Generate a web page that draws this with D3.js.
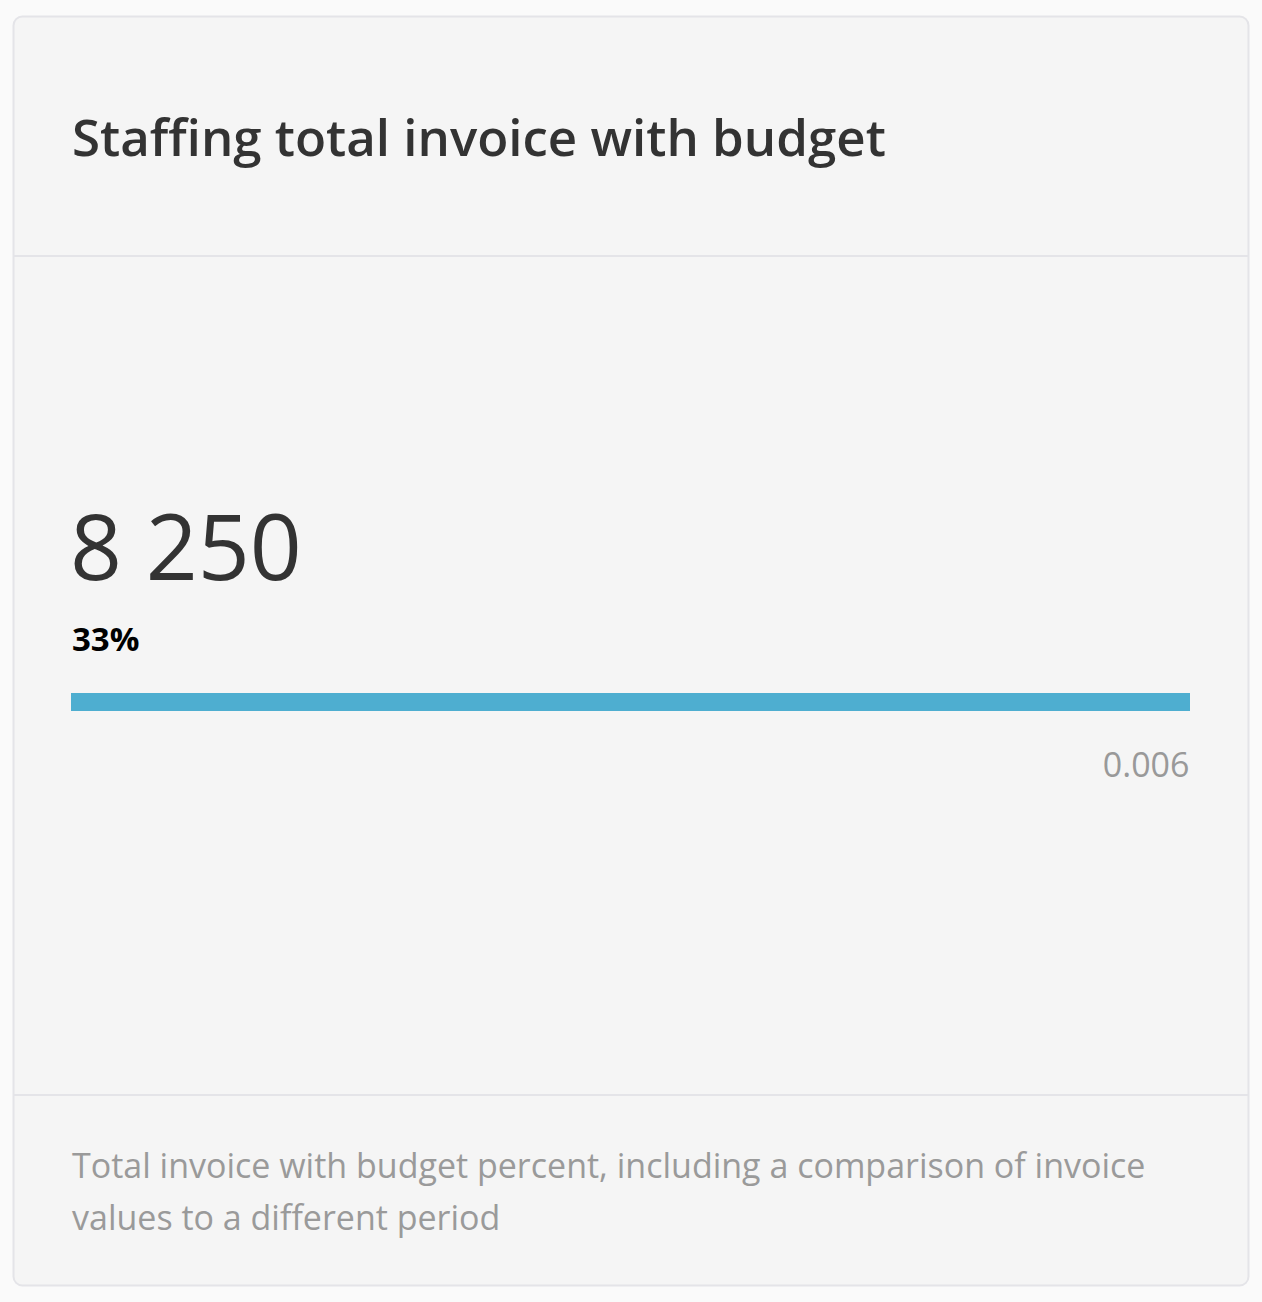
<!DOCTYPE html>
<html>
<head>
<meta charset="utf-8">
<script src="https://cdn.jsdelivr.net/npm/d3@7"></script>
<style>
  html, body { margin: 0; padding: 0; background: #fafafa; }
  svg { display: block; font-family: 'Open Sans', sans-serif; }
</style>
</head>
<body>
<div id="card"></div>
<script>
// 卡片数据
var title = ['Staffing total invoice with budget']
var totals = [8250]
var percents = [0.33]
var barValues = [0.006]
var barMax = [0.006]
var footnote = [
  'Total invoice with budget percent, including a comparison of invoice',
  'values to a different period'
]

function drawCard() {
  var width = 1262
  var height = 1302
  var left = 72
  var right = 1190

  var svg = d3.select('#card').append('svg').attr('width', width).attr('height', height)

  // 卡片背景
  svg.append('rect')
    .attr('x', 13.5).attr('y', 16.5)
    .attr('width', 1235).attr('height', 1269)
    .attr('rx', 9)
    .attr('fill', '#f5f5f5')
    .attr('stroke', '#e4e4e8')
    .attr('stroke-width', 2)

  // 分割线
  svg.selectAll('line.divider').data([256, 1095]).enter().append('line')
    .attr('class', 'divider')
    .attr('x1', 14).attr('x2', 1248)
    .attr('y1', function(d) { return d }).attr('y2', function(d) { return d })
    .attr('stroke', '#e4e4e8')
    .attr('stroke-width', 2)

  // 标题
  svg.append('text').text(title[0])
    .attr('x', left).attr('y', 156)
    .attr('font-size', 51)
    .attr('font-weight', 600)
    .attr('fill', '#333333')

  // 总数
  var fmt = d3.format(',')
  svg.append('text').text(fmt(totals[0]).replace(/,/g, ' '))
    .attr('x', left - 2).attr('y', 580)
    .attr('font-size', 91)
    .attr('fill', '#333333')

  svg.append('text').text(d3.format('.0%')(percents[0]))
    .attr('x', left).attr('y', 651)
    .attr('font-size', 33)
    .attr('font-weight', 700)
    .attr('fill', '#000000')

  // 进度条
  var x = d3.scaleLinear().domain([0, barMax[0]]).range([left - 1, right])

  svg.selectAll('rect.bar').data(barValues).enter().append('rect')
    .attr('class', 'bar')
    .attr('x', x(0))
    .attr('y', 693)
    .attr('width', function(d) { return x(d) - x(0) })
    .attr('height', 18)
    .attr('fill', '#4eaed0')

  var axis = d3.axisBottom(x).tickValues(barMax).tickSize(0).tickPadding(0).tickFormat(d3.format('.3f'))
  var g = svg.append('g').attr('transform', 'translate(-1, 777)').call(axis)
  g.select('.domain').remove()
  g.selectAll('text')
    .attr('dy', 0)
    .attr('y', 0)
    .attr('text-anchor', 'end')
    .attr('font-size', 34)
    .attr('font-family', 'Open Sans')
    .attr('fill', '#999999')

  // 说明
  svg.selectAll('text.note').data(footnote).enter().append('text')
    .attr('class', 'note')
    .text(function(d) { return d })
    .attr('x', left)
    .attr('y', function(d, i) { return 1178 + i * 52 })
    .attr('font-size', 34)
    .attr('fill', '#9a9a9a')
}

drawCard()
</script>
</body>
</html>
